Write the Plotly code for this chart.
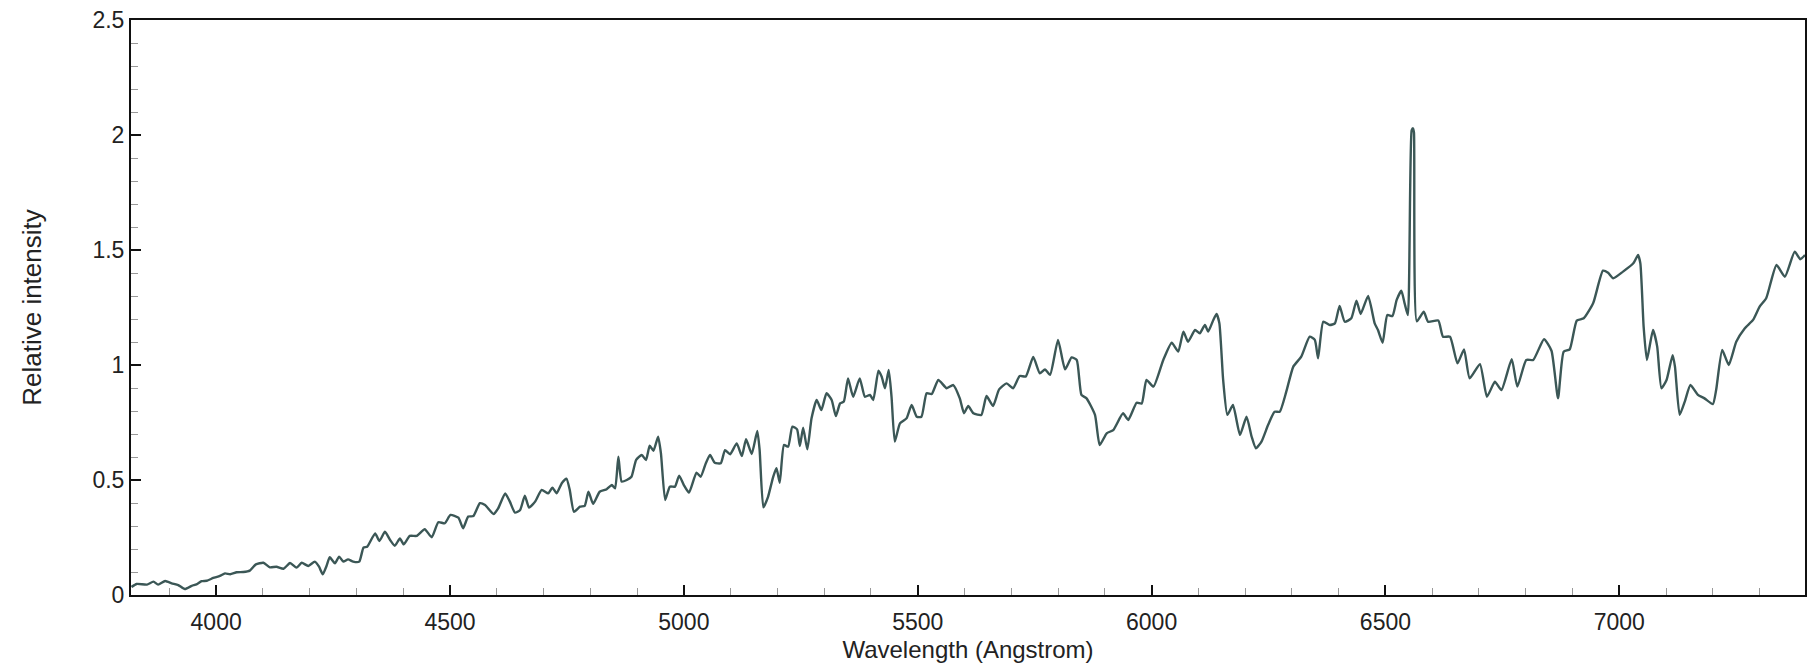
import plotly.graph_objects as go

wavelength = [
    3819, 3830, 3852, 3866, 3876, 3891, 3905, 3919, 3933, 3948, 3958, 3969, 3980, 3994,
    4008, 4019, 4030, 4044, 4058, 4072, 4085, 4101, 4115, 4129, 4144, 4158, 4172, 4183,
    4197, 4211, 4220, 4228, 4236, 4243, 4254, 4263, 4272, 4282, 4293, 4306, 4315, 4323,
    4340, 4349, 4361, 4372, 4382, 4393, 4401, 4414, 4429, 4446, 4461, 4475, 4489, 4501,
    4518, 4528, 4539, 4550, 4564, 4575, 4593, 4603, 4618, 4628, 4639, 4650, 4660, 4669,
    4682, 4696, 4710, 4719, 4728, 4739, 4749, 4756, 4765, 4778, 4788, 4796, 4806, 4820,
    4835, 4846, 4853, 4860, 4867, 4878, 4888, 4898, 4910, 4919, 4927, 4935, 4945, 4951,
    4960, 4970, 4981, 4990, 5000, 5011, 5027, 5036, 5047, 5056, 5066, 5079, 5088, 5099,
    5113, 5124, 5133, 5145, 5157, 5162, 5170, 5180, 5191, 5198, 5205, 5214, 5223, 5232,
    5242, 5248, 5255, 5264, 5273, 5284, 5294, 5305, 5316, 5325, 5334, 5342, 5351, 5362,
    5376, 5387, 5398, 5405, 5416, 5423, 5430, 5438, 5444, 5451, 5462, 5476, 5487, 5498,
    5508, 5519, 5530, 5544, 5562, 5576, 5590, 5599, 5608, 5619, 5636, 5647, 5661, 5674,
    5690, 5704, 5718, 5731, 5747, 5761, 5772, 5783, 5800, 5815, 5829, 5840, 5850, 5861,
    5879, 5889, 5904, 5918, 5939, 5950, 5968, 5979, 5989, 6004, 6025, 6043, 6057, 6068,
    6078, 6093, 6103, 6114, 6121, 6132, 6139, 6145, 6153, 6162, 6174, 6189, 6203, 6214,
    6223, 6235, 6249, 6263, 6274, 6288, 6303, 6320, 6338, 6349, 6356, 6367, 6381, 6392,
    6402, 6413, 6427, 6438, 6447, 6463, 6477, 6484, 6494, 6504, 6515, 6524, 6534, 6541,
    6548, 6556, 6559, 6561, 6567, 6582, 6591, 6613, 6623, 6638, 6654, 6668, 6680, 6702,
    6717, 6734, 6748, 6770, 6782, 6801, 6816, 6839, 6855, 6869, 6881, 6894, 6909, 6924,
    6944, 6965, 6976, 6987, 7008, 7030, 7040, 7045, 7052, 7059, 7072, 7081, 7090, 7101,
    7114, 7119, 7129, 7140, 7152, 7168, 7182, 7200, 7207, 7220, 7234, 7250, 7268, 7286,
    7300, 7314, 7336, 7354, 7375, 7387, 7397,
]

intensity = [
    0.035, 0.048, 0.045, 0.058, 0.045, 0.061, 0.051, 0.043, 0.026, 0.040, 0.046, 0.060, 0.062, 0.074,
    0.083, 0.094, 0.090, 0.099, 0.100, 0.106, 0.133, 0.140, 0.120, 0.123, 0.114, 0.139, 0.119, 0.140,
    0.126, 0.145, 0.123, 0.090, 0.126, 0.164, 0.138, 0.167, 0.145, 0.155, 0.145, 0.145, 0.206, 0.210,
    0.268, 0.235, 0.275, 0.239, 0.214, 0.246, 0.220, 0.257, 0.257, 0.286, 0.251, 0.316, 0.312, 0.348,
    0.336, 0.290, 0.341, 0.343, 0.399, 0.391, 0.352, 0.377, 0.442, 0.406, 0.358, 0.370, 0.432, 0.380,
    0.406, 0.457, 0.442, 0.467, 0.442, 0.486, 0.506, 0.457, 0.362, 0.384, 0.388, 0.449, 0.396, 0.449,
    0.460, 0.478, 0.464, 0.601, 0.493, 0.500, 0.514, 0.587, 0.609, 0.587, 0.649, 0.627, 0.688, 0.616,
    0.413, 0.471, 0.471, 0.519, 0.478, 0.445, 0.532, 0.514, 0.573, 0.609, 0.575, 0.573, 0.630, 0.612,
    0.659, 0.604, 0.677, 0.613, 0.713, 0.630, 0.381, 0.427, 0.514, 0.551, 0.488, 0.652, 0.645, 0.732,
    0.720, 0.648, 0.727, 0.633, 0.768, 0.848, 0.804, 0.877, 0.848, 0.778, 0.833, 0.841, 0.942, 0.862,
    0.942, 0.862, 0.870, 0.848, 0.975, 0.949, 0.899, 0.978, 0.862, 0.667, 0.746, 0.768, 0.826, 0.775,
    0.775, 0.877, 0.874, 0.935, 0.899, 0.913, 0.855, 0.790, 0.822, 0.790, 0.783, 0.865, 0.822, 0.894,
    0.920, 0.899, 0.952, 0.950, 1.035, 0.964, 0.981, 0.957, 1.109, 0.981, 1.033, 1.022, 0.870, 0.855,
    0.783, 0.652, 0.703, 0.717, 0.790, 0.761, 0.836, 0.833, 0.935, 0.906, 1.022, 1.097, 1.058, 1.145,
    1.101, 1.152, 1.138, 1.174, 1.145, 1.196, 1.222, 1.181, 0.935, 0.783, 0.826, 0.696, 0.775, 0.688,
    0.638, 0.667, 0.739, 0.797, 0.797, 0.884, 0.993, 1.036, 1.123, 1.109, 1.029, 1.188, 1.174, 1.181,
    1.257, 1.188, 1.203, 1.280, 1.222, 1.300, 1.181, 1.152, 1.097, 1.217, 1.213, 1.283, 1.323, 1.268,
    1.217, 2.020, 2.029, 2.010, 1.190, 1.232, 1.188, 1.193, 1.123, 1.123, 1.007, 1.068, 0.942, 1.004,
    0.862, 0.927, 0.891, 1.025, 0.906, 1.022, 1.022, 1.112, 1.062, 0.855, 1.058, 1.068, 1.193, 1.203,
    1.268, 1.410, 1.401, 1.377, 1.406, 1.442, 1.478, 1.442, 1.167, 1.022, 1.152, 1.080, 0.899, 0.935,
    1.043, 0.993, 0.783, 0.841, 0.913, 0.870, 0.855, 0.830, 0.891, 1.065, 1.000, 1.101, 1.159, 1.196,
    1.254, 1.290, 1.435, 1.384, 1.493, 1.460, 1.478,
]

x_tick_vals = [4000, 4500, 5000, 5500, 6000, 6500, 7000]
x_tick_text = ["4000", "4500", "5000", "5500", "6000", "6500", "7000"]
y_tick_vals = [0, 0.5, 1, 1.5, 2, 2.5]
y_tick_text = ["0", "0.5", "1", "1.5", "2", "2.5"]

x_title = "Wavelength (Angstrom)"
y_title = "Relative intensity"

fig = go.Figure()
fig.add_trace(go.Scatter(
    x=wavelength, y=intensity, mode="lines",
    line=dict(color="#3b5756", width=2.4, shape="spline", smoothing=0.5),
    showlegend=False, hoverinfo="x+y",
))

font_family = "Liberation Sans, Arial, sans-serif"

# page body has an 8px default margin, so the figure is sized/offset to compensate
fig.update_layout(
    width=1800, height=655,
    margin=dict(l=123, r=3, t=12, b=68, autoexpand=False),
    paper_bgcolor="white", plot_bgcolor="white",
    font=dict(family=font_family, color="#222222", size=23),
    showlegend=False,
)

fig.update_xaxes(
    range=[3818, 7397], automargin=False,
    tickmode="array", tickvals=x_tick_vals, ticktext=x_tick_text,
    ticks="inside", ticklen=10, tickwidth=1.5, tickcolor="#111111",
    minor=dict(dtick=100, tick0=0, ticks="inside", ticklen=7, tickwidth=1, tickcolor="#999999", showgrid=False),
    showline=True, linecolor="#111111", linewidth=2, mirror=True,
    showgrid=False, zeroline=False,
    tickfont=dict(size=23, family=font_family, color="#222222"),
    ticklabelstandoff=5, ticklabeloverflow="allow",
    title=dict(text=x_title, font=dict(size=24, family=font_family, color="#222222"), standoff=12),
)

fig.update_yaxes(
    range=[0, 2.5], automargin=False,
    tickmode="array", tickvals=y_tick_vals, ticktext=y_tick_text,
    ticks="inside", ticklen=10, tickwidth=1.5, tickcolor="#111111",
    minor=dict(dtick=0.1, tick0=0, ticks="inside", ticklen=7, tickwidth=1, tickcolor="#999999", showgrid=False),
    showline=True, linecolor="#111111", linewidth=2, mirror=True,
    showgrid=False, zeroline=False,
    tickfont=dict(size=23, family=font_family, color="#222222"),
    ticklabelstandoff=0, ticklabeloverflow="allow",
    title=dict(text=y_title, font=dict(size=26, family=font_family, color="#222222"), standoff=43),
)

fig.write_html("out.html")
